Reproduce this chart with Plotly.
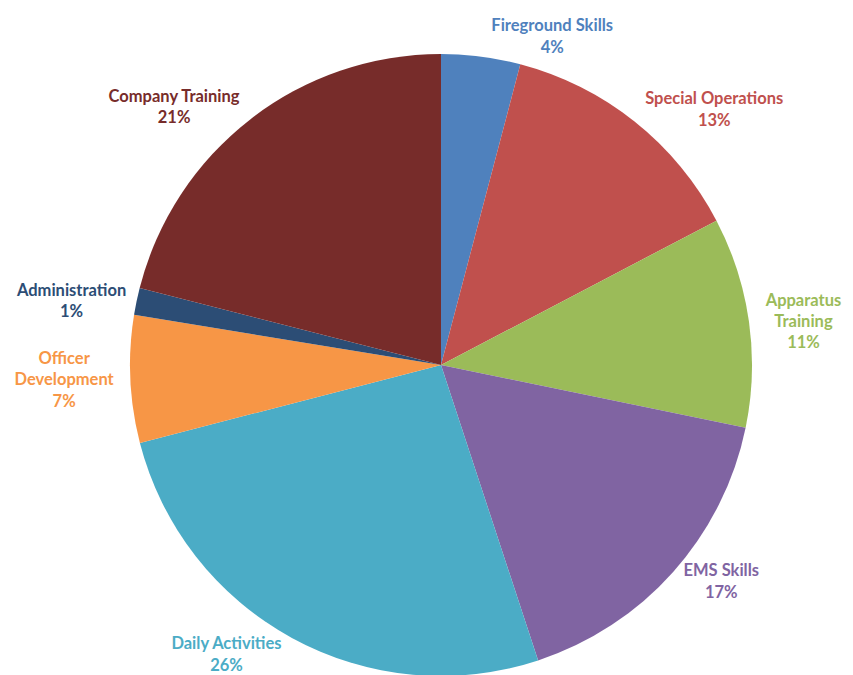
import plotly.graph_objects as go

# training categories, clockwise from 12 o'clock
labels = ["Fireground Skills", "Special Operations", "Apparatus<br>Training",
          "EMS Skills", "Daily Activities", "Officer<br>Development",
          "Administration", "Company Training"]
values = [4.1, 13.2, 10.9, 16.7, 26.0, 6.6, 1.4, 21.0]
colors = ["#4F81BD", "#C0504D", "#9BBB59", "#8064A2",
          "#4BACC6", "#F79646", "#2C4D75", "#772C2A"]

fig = go.Figure(go.Pie(
    labels=labels,
    values=values,
    sort=False,
    direction="clockwise",
    rotation=0,
    marker=dict(colors=colors, line=dict(width=0)),
    textposition="outside",
    texttemplate="<b>%{label}<br>%{percent:.0%}</b>",
    outsidetextfont=dict(family="Lato", size=16.5, color=colors),
    showlegend=False,
    hoverinfo="label+percent",
))

fig.update_layout(
    width=853, height=675,
    margin=dict(l=122, r=109, t=46, b=7),
    paper_bgcolor="white",
    plot_bgcolor="white",
)

fig.write_html("out.html")
